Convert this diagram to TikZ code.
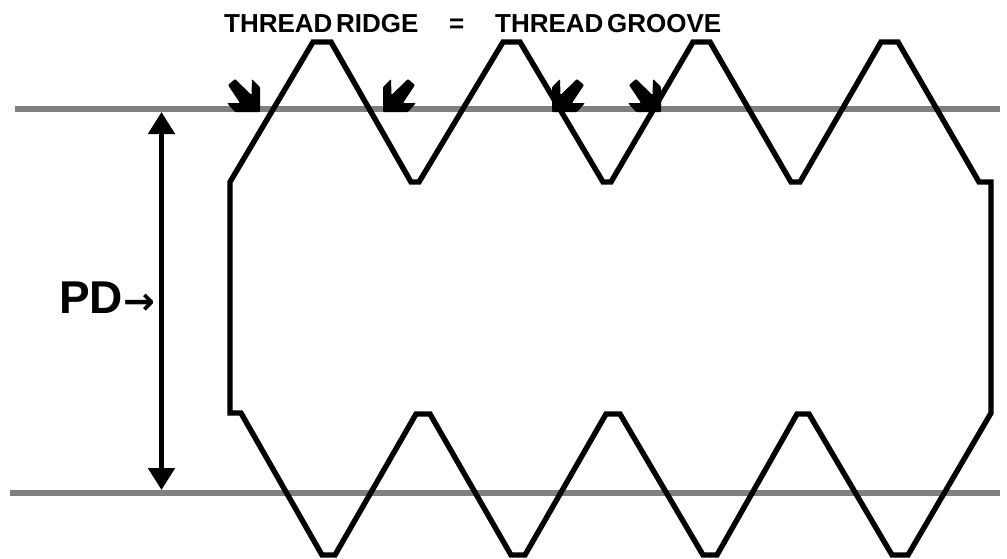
\documentclass[tikz,border=0pt]{standalone}
\usepackage{fontspec}
\setmainfont{Liberation Sans}
\newfontfamily\arrowfont{DejaVu Sans}
\usetikzlibrary{arrows.meta}
\tikzset{
  thread/.style={line width=5.4pt,black,line join=miter,miter limit=3},
  pitch/.style={line width=5.4pt,color={rgb,255:red,128;green,128;blue,128}},
  dim/.style={line width=5pt,black,{Triangle[length=22pt,width=26pt]}-{Triangle[length=22pt,width=26pt]}},
  pointer/.style={fill=black,rounded corners=1pt},
  smalllabel/.style={font=\bfseries\fontsize{26}{30}\selectfont,text=black,inner sep=0pt,anchor=base west},
  biglabel/.style={font=\bfseries\fontsize{46}{50}\selectfont,text=black,inner sep=0pt,anchor=base west}
}
\newcommand{\tightsp}{\hspace{3.6pt}}
\begin{document}
\begin{tikzpicture}[x=1pt,y=-1pt]
\useasboundingbox (0,0) rectangle (1007,558);
\coordinate (t1) at (15,109);
\coordinate (t2) at (1000,109);
\coordinate (b1) at (10,493);
\coordinate (b2) at (1000,493);
\coordinate (pdtop) at (161.5,112);
\coordinate (pdbot) at (161.5,490);
\draw[pitch] (t1) -- (t2);
\draw[pitch] (b1) -- (b2);
\draw[dim] (pdtop) -- (pdbot);
\draw[thread] (230,182) -- (313,42) -- (331,42) -- (411,182) -- (419,182)
  -- (503,42) -- (520,42) -- (603,182) -- (611,182) -- (693,42) -- (710,42)
  -- (791,182) -- (800,182) -- (881,42) -- (898,42) -- (979,182) -- (991,182)
  -- (991,413) -- (908,555) -- (892,555) -- (809,414) -- (797,414) -- (717,555)
  -- (703,555) -- (620,414) -- (606,414) -- (525,555) -- (511,555) -- (430,414)
  -- (416,414) -- (335,555) -- (322,555) -- (241,413) -- (230,413) -- cycle;
\foreach \tip/\s in {260/1,383/-1,552/-1,661/1}{
  \begin{scope}[shift={(\tip,112)},xscale=\s]
    \fill[pointer] (0,0) -- (0,-25) -- (-8,-33) -- (-8.5,-17) -- (-25,-33)
      -- (-32,-27) -- (-20,-9) -- (-33,-9) -- (-25,0) -- cycle;
  \end{scope}
}
\node[smalllabel] (ridge) at (224,32) {THREAD\tightsp RIDGE};
\node[smalllabel] (eq) at (449,32) {=};
\node[smalllabel] (groove) at (495,32) {THREAD\tightsp GROOVE};
\node[biglabel] (pd) at (59,313) {PD};
\node[font=\arrowfont\bfseries\fontsize{38}{42}\selectfont,inner sep=0pt,anchor=base west] (pdarrow) at (123,314) {→};
\end{tikzpicture}
\end{document}
